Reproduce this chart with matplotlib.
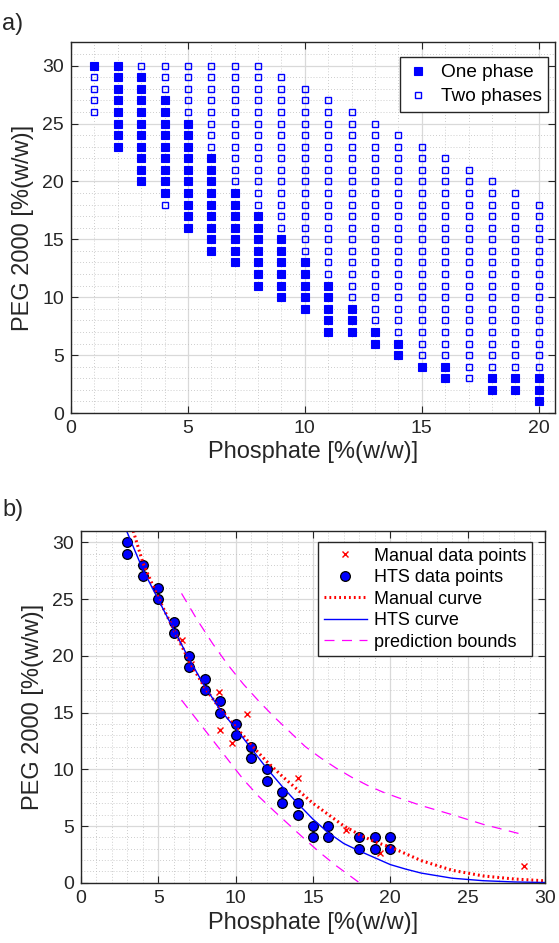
import numpy as np
import matplotlib.pyplot as plt
from matplotlib.ticker import MultipleLocator

plt.rcParams['font.family'] = ['Liberation Sans', 'DejaVu Sans']

# ---- a) screening grid ----
phosphate = [1, 2, 3, 4, 5, 6, 7, 8, 9, 10, 11, 12, 13, 14, 15, 16, 17, 18, 19, 20]
peg_top = [30, 30, 30, 30, 30, 30, 30, 30, 29, 28, 27, 26, 25, 24, 23, 22, 21, 20, 19, 18]
peg_bottom = [26, 23, 20, 18, 16, 14, 13, 11, 10, 9, 7, 7, 6, 5, 4, 3, 3, 2, 2, 1]
# one phase range per column (0,0 = none)
one_lo = [30, 23, 20, 19, 16, 14, 13, 11, 10, 9, 7, 7, 6, 5, 4, 3, 0, 2, 2, 1]
one_hi = [30, 30, 29, 27, 25, 22, 19, 17, 15, 13, 11, 9, 7, 6, 4, 4, 0, 3, 3, 3]

# ---- b) binodal ----
manual_x = [6.5, 7.1, 8.9, 9.0, 9.75, 10.75, 14.05, 17.15, 19.35, 28.65]
manual_y = [21.4, 19.3, 16.85, 13.5, 12.35, 14.85, 9.25, 4.65, 2.6, 1.45]

hts_x = [3, 3, 4, 4, 5, 5, 6, 6, 7, 7, 8, 8, 9, 9, 10, 10, 11, 11, 12, 12,
         13, 13, 14, 14, 15, 15, 16, 16, 18, 18, 19, 19, 20, 20]
hts_y = [30, 29, 28, 27, 26, 25, 23, 22, 20, 19, 18, 17, 16, 15, 14, 13, 12, 11, 10, 9,
         8, 7, 7, 6, 5, 4, 5, 4, 4, 3, 4, 3, 4, 3]

mcurve_x = [3.38, 4, 5, 6, 7, 8, 9, 10, 11, 12, 13, 14, 15, 16, 17, 18, 19, 20,
            22, 24, 26, 28, 30]
mcurve_y = [31.0, 28.2, 25.1, 22.3, 19.5, 17.2, 15.3, 13.75, 12.15, 10.7, 9.4, 8.2, 7.0,
            6.0, 5.0, 4.25, 3.6, 3.15, 1.95, 1.1, 0.6, 0.33, 0.17]

hcurve_x = [2.95, 4, 5, 6, 7, 8, 9, 10, 11, 12, 13, 14, 15, 16, 17, 18, 19, 20,
            21, 22, 24, 26, 28, 30]
hcurve_y = [31.0, 27.6, 24.95, 22.3, 19.7, 17.3, 15.25, 13.6, 11.85, 10.1, 8.5, 7.0, 5.6,
            4.4, 3.45, 2.8, 2.2, 1.6, 1.2, 0.85, 0.4, 0.18, 0.07, 0.02]

upper_x = [6.5, 7.5, 8.5, 9.5, 10.5, 11.5, 12.5, 13.5, 14.5, 15.5, 16.5, 17.5, 18.5,
           19.5, 20.5, 22, 24, 26, 28.7]
upper_y = [25.5, 23.2, 21.1, 19.2, 17.5, 16.0, 14.6, 13.3, 12.0, 11.0, 10.1, 9.3, 8.6,
           8.0, 7.5, 6.8, 6.0, 5.15, 4.2]

lower_x = [6.5, 7.5, 8.5, 9.5, 10.5, 11.5, 12.5, 13.5, 14.5, 15.5, 16.5, 17.5, 18.0]
lower_y = [16.1, 14.35, 12.6, 10.85, 9.1, 7.6, 6.3, 5.05, 3.8, 2.6, 1.5, 0.5, 0.0]


def matlab_style(ax):
    ax.minorticks_on()
    ax.xaxis.set_minor_locator(MultipleLocator(1))
    ax.yaxis.set_minor_locator(MultipleLocator(1))
    ax.grid(True, which='major', color='#d9d9d9', lw=0.9)
    ax.grid(True, which='minor', color='#bdbdbd', lw=0.6, ls=(0, (1, 2.5)))
    ax.set_axisbelow(True)
    ax.tick_params(which='major', direction='in', length=5, top=True, right=True,
                   labelsize=14, color='#262626', labelcolor='#262626', pad=5)
    ax.tick_params(which='minor', length=0, top=True, right=True)
    for s in ax.spines.values():
        s.set_color('#262626')
        s.set_linewidth(1.0)


fig = plt.figure(figsize=(5.59, 9.43), dpi=100)

# top panel
ax1 = fig.add_axes([0.127, 0.562, 0.866, 0.393])
one_px, one_py, two_px, two_py = [], [], [], []
for i, p in enumerate(phosphate):
    for peg in range(peg_bottom[i], peg_top[i] + 1):
        if one_lo[i] <= peg <= one_hi[i]:
            one_px.append(p)
            one_py.append(peg)
        else:
            two_px.append(p)
            two_py.append(peg)

ax1.plot(one_px, one_py, 's', color='#0000ff', ms=5.2, mec='#0000ff', mew=0.8,
         ls='none', label='One phase')
ax1.plot(two_px, two_py, 's', color='#0000ff', ms=5.0, mfc='none', mec='#0000ff', mew=1.0,
         ls='none', label='Two phases')
ax1.set_xlim(0, 20.7)
ax1.set_ylim(0, 32)
ax1.set_xticks([0, 5, 10, 15, 20])
ax1.set_yticks([0, 5, 10, 15, 20, 25, 30])
matlab_style(ax1)
ax1.set_xlabel('Phosphate [%(w/w)]', fontsize=17, color='#262626', labelpad=3)
ax1.set_ylabel('PEG 2000 [%(w/w)]', fontsize=17, color='#262626', labelpad=6)
leg1 = ax1.legend(loc='upper right', bbox_to_anchor=(0.9855, 0.960), borderaxespad=0,
                  fontsize=13.7, fancybox=False, edgecolor='#262626', framealpha=1,
                  handlelength=1.2, handletextpad=0.6, labelspacing=0.35, borderpad=0.35)
leg1.get_frame().set_linewidth(1.0)

# bottom panel
ax2 = fig.add_axes([0.1449, 0.0639, 0.830, 0.373])
ax2.plot(manual_x, manual_y, 'x', color='#ff0000', ms=4.5, mew=1.0, ls='none',
         label='Manual data points')
ax2.plot(hts_x, hts_y, 'o', color='#0000ff', mec='black', ms=7, mew=0.9, ls='none',
         label='HTS data points')
ax2.plot(mcurve_x, mcurve_y, color='#ff0000', lw=2.2, ls=(0, (0.6, 1.0)), label='Manual curve')
ax2.plot(hcurve_x, hcurve_y, color='#0000ff', lw=1.0, label='HTS curve')
ax2.plot(upper_x, upper_y, color='#ff00ff', lw=0.9, ls=(0, (8, 6)), label='prediction bounds')
ax2.plot(lower_x, lower_y, color='#ff00ff', lw=0.9, ls=(0, (8, 6)))
ax2.set_xlim(0, 30)
ax2.set_ylim(0, 31)
ax2.set_xticks([0, 5, 10, 15, 20, 25, 30])
ax2.set_yticks([0, 5, 10, 15, 20, 25, 30])
matlab_style(ax2)
ax2.set_xlabel('Phosphate [%(w/w)]', fontsize=17, color='#262626', labelpad=4)
ax2.set_ylabel('PEG 2000 [%(w/w)]', fontsize=17, color='#262626', labelpad=6)
leg2 = ax2.legend(loc='upper right', bbox_to_anchor=(0.972, 0.968), borderaxespad=0,
                  fontsize=13, fancybox=False, edgecolor='#262626', framealpha=1,
                  handlelength=2.4, handletextpad=0.4, labelspacing=0.25, borderpad=0.3)
leg2.get_frame().set_linewidth(1.0)

fig.text(0.004, 1 - 24 / 943, 'a)', fontsize=17, va='center', ha='left', color='#262626')
fig.text(0.004, 1 - 510 / 943, 'b)', fontsize=17, va='center', ha='left', color='#262626')

fig.savefig('out.png', dpi=100)
